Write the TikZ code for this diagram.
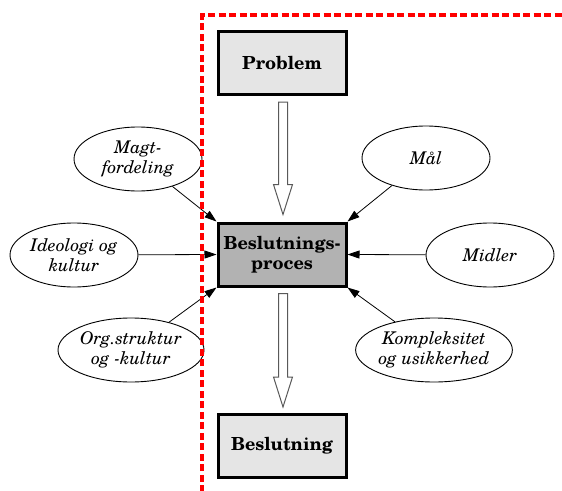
\documentclass[tikz,border=0pt]{standalone}
\usepackage{fontspec}
\setmainfont{texgyreschola}[Extension=.otf,UprightFont=*-regular,BoldFont=*-bold,ItalicFont=*-italic,BoldItalicFont=*-bolditalic]
\usetikzlibrary{shapes.geometric,arrows.meta,calc}
\begin{document}
\begin{tikzpicture}[x=1pt,y=-1pt,
  boxnode/.style={draw=black,line width=3pt,minimum width=128pt,minimum height=63pt,inner sep=0pt,align=center,font=\fontsize{18}{20}\selectfont\bfseries},
  ellnode/.style={draw=black,ellipse,line width=0.9pt,minimum width=128pt,minimum height=64pt,inner sep=0pt,align=center,font=\fontsize{17.5}{20.5}\selectfont\itshape},
  conn/.style={line width=0.8pt,-{Triangle[length=12pt,width=8pt]}},
  hollow/.style={draw=black!65,line width=1pt,fill=white},
  redline/.style={draw=red,line width=4pt,dash pattern=on 7pt off 3.5pt}
]
\useasboundingbox (0,0) rectangle (562,490);
\node[boxnode,fill=black!10] (prob) at (282,63) {Problem};
\node[boxnode,fill=black!30] (proc) at (282,254.5) {Beslutnings-\\proces};
\node[boxnode,fill=black!10] (besl) at (282,446) {Beslutning};
\node[ellnode] (magt) at (138,159) {Magt-\\fordeling};
\node[ellnode] (ideo) at (74,255) {Ideologi og\\kultur};
\node[ellnode,minimum width=146pt] (org) at (131,350) {Org.struktur\\og -kultur};
\node[ellnode] (maal) at (426,158) {Mål};
\node[ellnode] (midl) at (490,255) {Midler};
\node[ellnode,minimum width=144pt] (komp) at (434,350) {Kompleksitet\\og usikkerhed};
\draw[conn] (magt) -- (proc.north west);
\draw[conn] (ideo) -- (proc.west);
\draw[conn] (org) -- (proc.south west);
\draw[conn] (maal) -- (proc.north east);
\draw[conn] (midl) -- (proc.east);
\draw[conn] (komp) -- (proc.south east);
\coordinate (a1s) at ($(prob.south)+(1,6)$);
\coordinate (a1e) at ($(proc.north)+(1,-7)$);
\coordinate (a2s) at ($(proc.south)+(1,6)$);
\coordinate (a2e) at ($(besl.north)+(1,-6)$);
\draw[hollow] ($(a1s)+(-4.5,0)$) -- ($(a1e)+(-4.5,-30)$) -- ($(a1e)+(-9.5,-30)$) -- (a1e) -- ($(a1e)+(9.5,-30)$) -- ($(a1e)+(4.5,-30)$) -- ($(a1s)+(4.5,0)$) -- cycle;
\draw[hollow] ($(a2s)+(-4.5,0)$) -- ($(a2e)+(-4.5,-30)$) -- ($(a2e)+(-9.5,-30)$) -- (a2e) -- ($(a2e)+(9.5,-30)$) -- ($(a2e)+(4.5,-30)$) -- ($(a2s)+(4.5,0)$) -- cycle;
\coordinate (rb) at (202,492);
\coordinate (rc) at (202,15);
\coordinate (rr) at (564,15);
\draw[redline] (rb) -- (rc) -- (rr);
\end{tikzpicture}
\end{document}
